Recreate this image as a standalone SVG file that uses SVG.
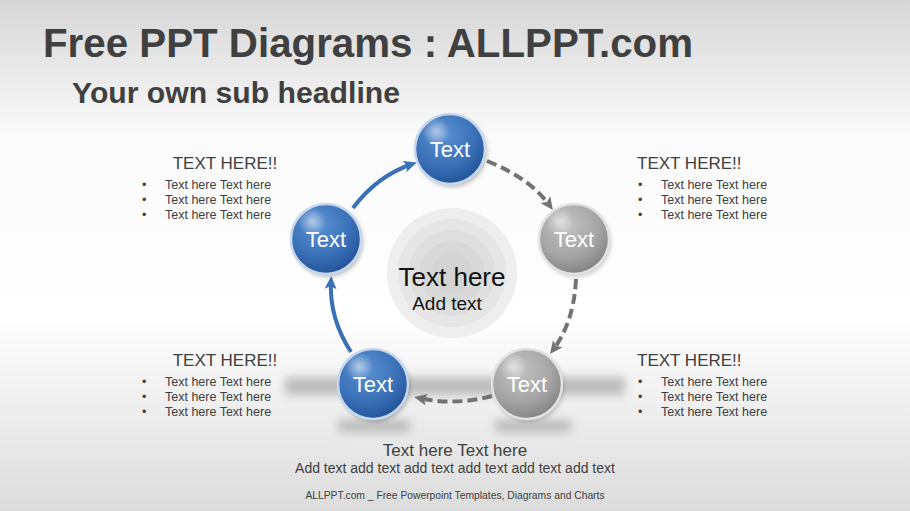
<svg xmlns="http://www.w3.org/2000/svg" width="910" height="511" viewBox="0 0 910 511">
<defs>
<linearGradient id="bg" x1="0" y1="0" x2="0" y2="1">
<stop offset="0" stop-color="#d6d6d6"/>
<stop offset="0.26" stop-color="#fafafa"/>
<stop offset="0.62" stop-color="#ffffff"/>
<stop offset="1" stop-color="#dcdcdc"/>
</linearGradient>
<radialGradient id="blue" cx="0.4" cy="0.3" r="0.75">
<stop offset="0" stop-color="#5b92d2"/>
<stop offset="0.6" stop-color="#3a70b8"/>
<stop offset="1" stop-color="#1f4f93"/>
</radialGradient>
<radialGradient id="gray" cx="0.4" cy="0.3" r="0.75">
<stop offset="0" stop-color="#c2c2c2"/>
<stop offset="0.6" stop-color="#a5a5a5"/>
<stop offset="1" stop-color="#808080"/>
</radialGradient>
<radialGradient id="gloss" cx="0.3" cy="0.25" r="0.2">
<stop offset="0" stop-color="#ffffff" stop-opacity="0.55"/>
<stop offset="1" stop-color="#ffffff" stop-opacity="0"/>
</radialGradient>
<filter id="blur" x="-20%" y="-100%" width="140%" height="300%"><feGaussianBlur stdDeviation="5"/></filter>
<filter id="sh" x="-30%" y="-30%" width="160%" height="160%"><feGaussianBlur stdDeviation="2"/></filter>
<marker id="ab" markerWidth="14" markerHeight="14" refX="8" refY="7" orient="auto" markerUnits="userSpaceOnUse">
<path d="M0,1 L13,7 L0,13 L3,7 Z" fill="#3a70b4"/>
</marker>
<marker id="ag" markerWidth="14" markerHeight="14" refX="8" refY="7" orient="auto" markerUnits="userSpaceOnUse">
<path d="M0,1 L13,7 L0,13 L3,7 Z" fill="#737373"/>
</marker>
</defs>
<style>
.t{font-family:"Liberation Sans",Arial,sans-serif;fill:#404040}
.h{font-size:17px}
.b{font-size:12.5px}
.n{font-family:"Liberation Sans",Arial,sans-serif;fill:#ffffff;font-size:22px;text-anchor:middle}
.bl{fill:url(#blue);stroke:#c7d7ec;stroke-width:2.5}
.gr{fill:url(#gray);stroke:#e2e2e2;stroke-width:2.5}
.blueArrow{fill:none;stroke:#3a70b4;stroke-width:4;marker-end:url(#ab)}
.grayArrow{fill:none;stroke:#737373;stroke-width:4;stroke-dasharray:10 5;marker-end:url(#ag)}
</style>
<rect width="910" height="511" fill="url(#bg)"/>

<g id="shadows" opacity="0.6">
<rect x="285" y="377" width="340" height="18" fill="#9a9a9a" filter="url(#blur)"/>
<rect x="338" y="420" width="72" height="12" fill="#9a9a9a" filter="url(#blur)"/>
<rect x="495" y="420" width="76" height="12" fill="#9a9a9a" filter="url(#blur)"/>
</g>

<text class="t" x="43" y="57" font-size="40" font-weight="bold" textLength="650" lengthAdjust="spacingAndGlyphs">Free PPT Diagrams : ALLPPT.com</text>
<text class="t" x="72" y="103" font-size="29" font-weight="bold" textLength="328" lengthAdjust="spacingAndGlyphs">Your own sub headline</text>

<g id="center">
<circle cx="452" cy="273" r="65" fill="#eeeeee"/>
<circle cx="452" cy="273" r="54" fill="#e6e6e6"/>
<circle cx="452" cy="273" r="43" fill="#dedede"/>
<circle cx="452" cy="273" r="32" fill="#d8d8d8"/>
<circle cx="452" cy="273" r="20" fill="#d4d4d4"/>
<text x="452" y="286" font-family="Liberation Sans,Arial,sans-serif" font-size="26" fill="#111" text-anchor="middle">Text here</text>
<text x="447" y="310" font-family="Liberation Sans,Arial,sans-serif" font-size="19" fill="#111" text-anchor="middle">Add text</text>
</g>

<g id="connectors">
<path class="blueArrow" d="M351,352 Q329,318 331,281"/>
<path class="blueArrow" d="M353,208 Q377,176 412,164"/>
<path class="grayArrow" d="M487,161 Q530,178 550,206"/>
<path class="grayArrow" d="M576,279 Q574,322 553,350"/>
<path class="grayArrow" d="M492,396 Q455,406 419,398"/>
</g>

<g id="n1">
<circle cx="452" cy="152" r="35" fill="#000" opacity="0.25" filter="url(#sh)"/>
<circle class="bl" cx="450" cy="149" r="35"/>
<circle cx="450" cy="149" r="35" fill="url(#gloss)"/>
<text class="n" x="450" y="157">Text</text>
</g>
<g id="n2">
<circle cx="576" cy="242" r="35" fill="#000" opacity="0.2" filter="url(#sh)"/>
<circle class="gr" cx="574" cy="239" r="35"/>
<circle cx="574" cy="239" r="35" fill="url(#gloss)"/>
<text class="n" x="574" y="247">Text</text>
</g>
<g id="n3">
<circle cx="529" cy="387" r="35" fill="#000" opacity="0.2" filter="url(#sh)"/>
<circle class="gr" cx="527" cy="384" r="35"/>
<circle cx="527" cy="384" r="35" fill="url(#gloss)"/>
<text class="n" x="527" y="392">Text</text>
</g>
<g id="n4">
<circle cx="375" cy="387" r="35" fill="#000" opacity="0.25" filter="url(#sh)"/>
<circle class="bl" cx="373" cy="384" r="35"/>
<circle cx="373" cy="384" r="35" fill="url(#gloss)"/>
<text class="n" x="373" y="392">Text</text>
</g>
<g id="n5">
<circle cx="328" cy="242" r="35" fill="#000" opacity="0.25" filter="url(#sh)"/>
<circle class="bl" cx="326" cy="239" r="35"/>
<circle cx="326" cy="239" r="35" fill="url(#gloss)"/>
<text class="n" x="326" y="247">Text</text>
</g>

<g id="tl">
<text class="t h" x="225" y="169" text-anchor="middle">TEXT HERE!!</text>
<text class="t b" x="142" y="189">•</text><text class="t b" x="165" y="189">Text here Text here</text>
<text class="t b" x="142" y="204">•</text><text class="t b" x="165" y="204">Text here Text here</text>
<text class="t b" x="142" y="219">•</text><text class="t b" x="165" y="219">Text here Text here</text>
</g>
<g id="tr">
<text class="t h" x="637" y="169">TEXT HERE!!</text>
<text class="t b" x="638" y="189">•</text><text class="t b" x="661" y="189">Text here Text here</text>
<text class="t b" x="638" y="204">•</text><text class="t b" x="661" y="204">Text here Text here</text>
<text class="t b" x="638" y="219">•</text><text class="t b" x="661" y="219">Text here Text here</text>
</g>
<g id="bl">
<text class="t h" x="225" y="366" text-anchor="middle">TEXT HERE!!</text>
<text class="t b" x="142" y="386">•</text><text class="t b" x="165" y="386">Text here Text here</text>
<text class="t b" x="142" y="401">•</text><text class="t b" x="165" y="401">Text here Text here</text>
<text class="t b" x="142" y="416">•</text><text class="t b" x="165" y="416">Text here Text here</text>
</g>
<g id="br">
<text class="t h" x="637" y="366">TEXT HERE!!</text>
<text class="t b" x="638" y="386">•</text><text class="t b" x="661" y="386">Text here Text here</text>
<text class="t b" x="638" y="401">•</text><text class="t b" x="661" y="401">Text here Text here</text>
<text class="t b" x="638" y="416">•</text><text class="t b" x="661" y="416">Text here Text here</text>
</g>

<g id="bottom">
<text class="t" x="455" y="456" font-size="17" text-anchor="middle">Text here Text here</text>
<text class="t" x="455" y="473" font-size="14" text-anchor="middle">Add text add text add text add text add text add text</text>
<text class="t" x="455" y="499" font-size="10.3" text-anchor="middle">ALLPPT.com _ Free Powerpoint Templates, Diagrams and Charts</text>
</g>
</svg>
